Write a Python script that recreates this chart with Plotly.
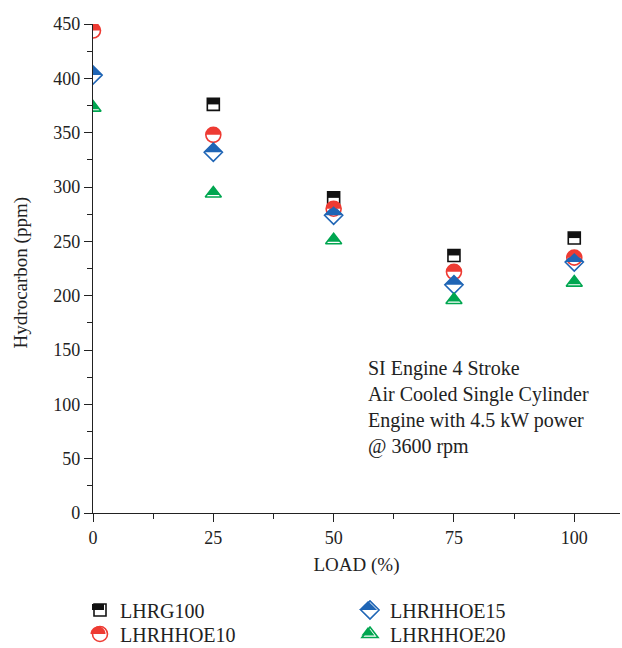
import numpy as np
import plotly.graph_objects as go

load = [0, 25, 50, 75, 100]
series_names = ["LHRG100", "LHRHHOE10", "LHRHHOE15", "LHRHHOE20"]
lhrg100 = [462, 376, 290, 237, 253]
lhrhhoe10 = [444, 348, 280, 222, 235]
lhrhhoe15 = [403, 332, 274, 210, 231]
lhrhhoe20 = [373, 294, 251, 196, 212]
y_ticks = [0, 50, 100, 150, 200, 250, 300, 350, 400, 450]
x_ticks = [0, 25, 50, 75, 100]
y_title = "Hydrocarbon (ppm)"
x_title = "LOAD (%)"
note_lines = ["SI Engine 4 Stroke", "Air Cooled Single Cylinder",
              "Engine with 4.5 kW power", "@ 3600 rpm"]

FONT = "Liberation Serif"
colors = ["#111111", "#ee3b33", "#1f65b5", "#00a650"]
symbols = ["square-open", "circle-open", "diamond-open", "triangle-up-open"]
sizes = [12, 15, 14, 14]
values = [lhrg100, lhrhhoe10, lhrhhoe15, lhrhhoe20]
legend_ids = ["legend", "legend2", "legend3", "legend4"]
# legend icon centres (pixels)
leg_pos = [(98, 610), (98, 634), (368, 610), (368, 634)]

# plot-area geometry (pixels)
L, R, T, B = 93, 2, 24, 135
PW, PH = 622 - L - R, 648 - T - B


def circle_half(r):
    t = np.linspace(0, np.pi, 25)
    return [(r * np.cos(a), r * np.sin(a)) for a in t]


# top-half fill polygons (pixel offsets, y up)
half_polys = [
    [(-6, 0), (6, 0), (6, 6), (-6, 6)],
    circle_half(7.5),
    [(-9.1, 0), (9.1, 0), (0, 9.1)],
    [(-6.5, -1.5), (6.5, -1.5), (0, 7)],
]


def pix_path(pts):
    return "M" + " L".join(f"{x:.2f},{y:.2f}" for x, y in pts) + " Z"


def paper_path(pts, cx, cy):
    return "M" + " L".join(f"{(cx + x - L) / PW:.5f},{(PH + T - cy + y) / PH:.5f}"
                           for x, y in pts) + " Z"


fig = go.Figure()
for name, vals, c, s, sz, lid in zip(series_names, values, colors, symbols, sizes, legend_ids):
    fig.add_trace(go.Scatter(
        x=load, y=vals, mode="markers", name=name, legend=lid,
        marker=dict(symbol=s, size=sz, color=c, line=dict(width=1.6, color=c)),
        cliponaxis=True,
    ))

shapes = []
for vals, c, pts in zip(values, colors, half_polys):
    for xv, yv in zip(load, vals):
        shapes.append(dict(type="path", xref="x", yref="y", xsizemode="pixel",
                           ysizemode="pixel", xanchor=xv, yanchor=yv, path=pix_path(pts),
                           fillcolor=c, line=dict(width=0), layer="above"))

# legend icon fills (paper coords)
for (px, py), c, pts in zip(leg_pos, colors, half_polys):
    shapes.append(dict(type="path", xref="paper", yref="paper",
                       path=paper_path(pts, px, py),
                       fillcolor=c, line=dict(width=0), layer="above"))

legends = {}
for lid, (px, py) in zip(legend_ids, leg_pos):
    legends[lid] = dict(xref="container", yref="container",
                        x=(px - 18) / 622, xanchor="left",
                        y=1 - py / 648, yanchor="middle",
                        font=dict(family=FONT, size=20, color="#222"),
                        itemsizing="trace", bgcolor="rgba(0,0,0,0)")

axis_common = dict(ticks="outside", ticklen=8, tickwidth=1.2, tickcolor="#222",
                   showline=True, linecolor="#222", linewidth=1.2, showgrid=False,
                   zeroline=False, automargin=False,
                   tickfont=dict(family=FONT, size=18, color="#222"))

fig.update_layout(
    width=622, height=648,
    margin=dict(l=L, r=R, t=T, b=B, autoexpand=False),
    plot_bgcolor="white", paper_bgcolor="white",
    font=dict(family=FONT, size=18, color="#222222"),
    shapes=shapes,
    showlegend=True,
    annotations=[
        dict(x=(366 - L) / PW, y=(648 - B - 355) / PH, xref="paper", yref="paper",
             xanchor="left", yanchor="top", align="left",
             showarrow=False, text="<br>".join(note_lines),
             font=dict(family=FONT, size=20, color="#222222")),
        dict(x=(21 - L) / PW, y=0.49, xref="paper", yref="paper",
             xanchor="center", yanchor="middle", textangle=-90,
             showarrow=False, text=y_title,
             font=dict(family=FONT, size=19, color="#222222")),
    ],
    xaxis=dict(range=[0, 109.5], tickvals=x_ticks,
               minor=dict(dtick=12.5, tick0=0, ticks="outside", ticklen=5,
                          tickcolor="#222", tickwidth=1.2, showgrid=False),
               title=dict(text=x_title, standoff=10,
                          font=dict(family=FONT, size=19, color="#222")),
               **axis_common),
    yaxis=dict(range=[0, 450], tickvals=y_ticks,
               minor=dict(dtick=25, tick0=0, ticks="outside", ticklen=5,
                          tickcolor="#222", tickwidth=1.2, showgrid=False),
               **axis_common),
    **legends,
)

fig.write_html("out.html")
